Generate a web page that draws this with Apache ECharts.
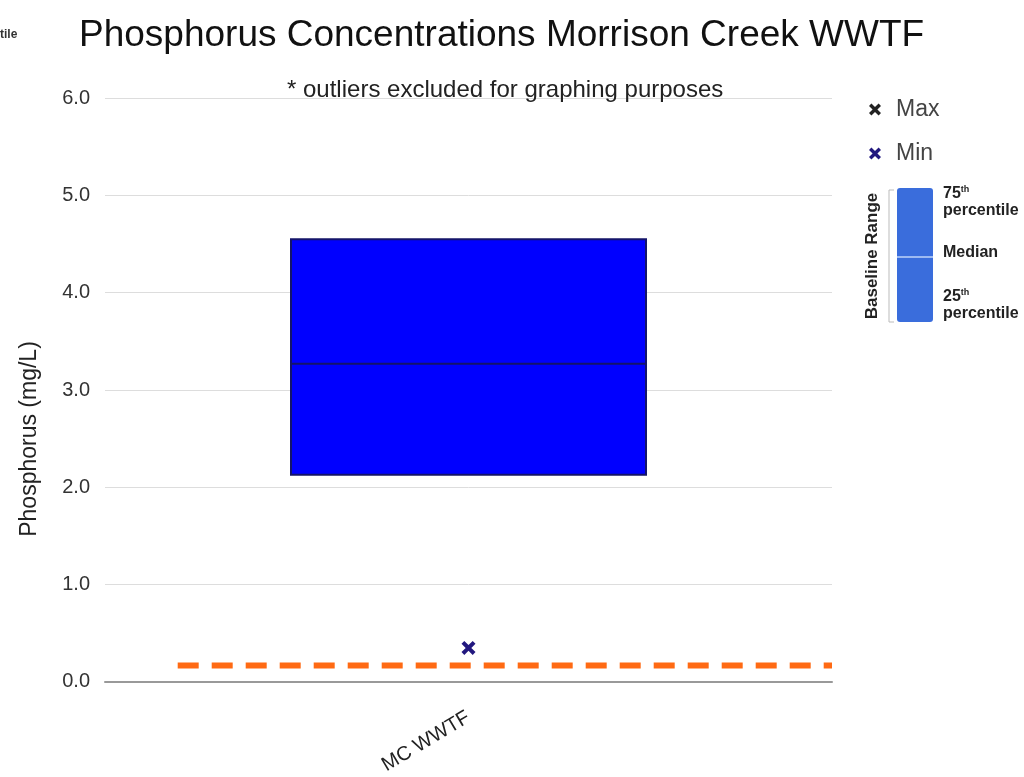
<!DOCTYPE html>
<html>
<head>
<meta charset="utf-8">
<script src="https://cdn.jsdelivr.net/npm/echarts@6/dist/echarts.min.js"></script>
<style>html,body{margin:0;padding:0;background:#fff}#c{width:1024px;height:777px}</style>
</head>
<body>
<div id="c"></div>
<script>
// ---- data ----
const categories = ['MC WWTF'];
const q1Values = [2.13];
const medianValues = [3.27];
const q3Values = [4.55];
const minValues = [0.35];
const maxValues = [];            // max excluded (outlier) for graphing
const baselineLevel = [0.17];    // orange dashed reference
const baselineSpan = [0.1, 1.0]; // horizontal extent on hidden [0,1] axis
const yTicks = [0, 1, 2, 3, 4, 5, 6];

const FONT = 'Liberation Sans, Arial, sans-serif';
const XPATH = 'path://M0,2 L2,0 L5,3 L8,0 L10,2 L7,5 L10,8 L8,10 L5,7 L2,10 L0,8 L3,5 Z';

const boxData = categories.map((c, i) => [q1Values[i], q1Values[i], medianValues[i], q3Values[i], q3Values[i]]);
const minData = minValues.map((v, i) => [categories[i], v]);
const maxData = maxValues.map((v, i) => [categories[i], v]);
const lineData = baselineSpan.map(x => [x, baselineLevel[0]]);

const chart = echarts.init(document.getElementById('c'));
chart.setOption({
  backgroundColor: '#fff',
  animation: false,
  textStyle: { fontFamily: FONT },
  title: [
    { text: 'Phosphorus Concentrations Morrison Creek WWTF', left: 74, top: 12,
      textStyle: { fontSize: 37, fontWeight: 'normal', color: '#111', fontFamily: FONT } },
    { text: '* outliers excluded for graphing purposes', left: 282, top: 73,
      textStyle: { fontSize: 24, fontWeight: 'normal', color: '#222', fontFamily: FONT } }
  ],
  legend: {
    orient: 'vertical', left: 864, top: 93, itemGap: 21, itemWidth: 12, itemHeight: 12,
    textStyle: { fontSize: 23, color: '#444', fontFamily: FONT, padding: [0, 0, 0, 10] },
    data: [
      { name: 'Max', icon: XPATH, itemStyle: { color: '#222', opacity: 1 } },
      { name: 'Min', icon: XPATH, itemStyle: { color: '#22187f', opacity: 1 } }
    ]
  },
  grid: { left: 105, right: 192, top: 98, bottom: 92 },
  xAxis: [
    { type: 'category', data: categories,
      axisLine: { lineStyle: { color: '#999', width: 2 } },
      axisTick: { show: false },
      axisLabel: { rotate: 31, fontSize: 20, color: '#222', margin: 34, fontFamily: FONT } },
    { type: 'value', min: 0, max: 1, show: false }
  ],
  yAxis: {
    type: 'value', min: yTicks[0], max: yTicks[yTicks.length - 1], interval: 1,
    axisLine: { show: false }, axisTick: { show: false },
    axisLabel: { fontSize: 20, color: '#333', margin: 15, formatter: v => v.toFixed(1), fontFamily: FONT },
    splitLine: { lineStyle: { color: '#ddd', width: 1 } }
  },
  series: [
    { type: 'boxplot', name: 'Baseline', data: boxData, boxWidth: [355, 355],
      itemStyle: { color: '#0000FF', borderColor: '#14146a', borderWidth: 2 } },
    { type: 'line', name: 'Reference', xAxisIndex: 1, data: lineData, symbol: 'none',
      lineStyle: { color: '#FF6A13', width: 6, type: [21, 13] }, z: 3 },
    { type: 'scatter', name: 'Max', data: maxData, symbol: XPATH, symbolSize: 14, itemStyle: { color: '#222', opacity: 1 } },
    { type: 'scatter', name: 'Min', data: minData, symbol: XPATH, symbolSize: 14, itemStyle: { color: '#22187f', opacity: 1 }, z: 4 }
  ],
  graphic: [
    { type: 'text', left: 0, top: 29, style: { text: 'tile', font: 'bold 12px ' + FONT, fill: '#333' } },
    { type: 'text', x: 30, y: 439, rotation: Math.PI / 2,
      style: { text: 'Phosphorus (mg/L)', font: '23px ' + FONT, fill: '#222', align: 'center', verticalAlign: 'middle' } },
    // baseline range legend
    { type: 'line', shape: { x1: 889, y1: 190, x2: 889, y2: 322 }, style: { stroke: '#bbb', lineWidth: 1 } },
    { type: 'line', shape: { x1: 889, y1: 190, x2: 894, y2: 190 }, style: { stroke: '#bbb', lineWidth: 1 } },
    { type: 'line', shape: { x1: 889, y1: 322, x2: 894, y2: 322 }, style: { stroke: '#bbb', lineWidth: 1 } },
    { type: 'rect', shape: { x: 897, y: 188, width: 36, height: 134, r: 3 }, style: { fill: '#3a6ddc' } },
    { type: 'line', shape: { x1: 897, y1: 257, x2: 933, y2: 257 }, style: { stroke: '#9dbaf2', lineWidth: 2 } },
    { type: 'text', x: 872, y: 256, rotation: Math.PI / 2,
      style: { text: 'Baseline Range', font: 'bold 17px ' + FONT, fill: '#222', align: 'center', verticalAlign: 'middle' } },
    { type: 'text', left: 943, top: 185,
      style: { text: '75{s|th}\npercentile', font: 'bold 16px ' + FONT, fill: '#222', lineHeight: 17,
        rich: { s: { fontSize: 9, fontWeight: 'bold', verticalAlign: 'top', fill: '#222' } } } },
    { type: 'text', left: 943, top: 245, style: { text: 'Median', font: 'bold 16px ' + FONT, fill: '#222' } },
    { type: 'text', left: 943, top: 288,
      style: { text: '25{s|th}\npercentile', font: 'bold 16px ' + FONT, fill: '#222', lineHeight: 17,
        rich: { s: { fontSize: 9, fontWeight: 'bold', verticalAlign: 'top', fill: '#222' } } } }
  ]
});
</script>
</body>
</html>
